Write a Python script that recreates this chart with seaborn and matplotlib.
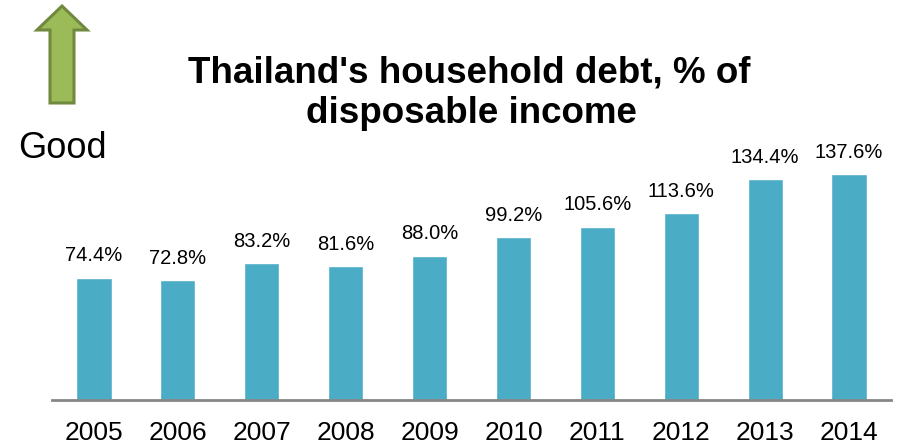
import matplotlib
matplotlib.use("Agg")
import matplotlib.pyplot as plt
import seaborn as sns
import pandas as pd
from matplotlib.patches import Polygon

years = ["2005", "2006", "2007", "2008", "2009", "2010", "2011", "2012", "2013", "2014"]
debt = [74.4, 72.8, 83.2, 81.6, 88.0, 99.2, 105.6, 113.6, 134.4, 137.6]
labels = ["74.4%", "72.8%", "83.2%", "81.6%", "88.0%", "99.2%", "105.6%", "113.6%", "134.4%", "137.6%"]
title_lines = ["Thailand's household debt, % of", "disposable income"]

sns.set_theme(style="white")
plt.rcParams["font.family"] = ["Liberation Sans", "DejaVu Sans"]

W, H = 900, 446
fig = plt.figure(figsize=(9, 4.46), dpi=100)
fig.patch.set_facecolor("white")

# axes in pixel layout
left_px, right_px, base_px, top_px = 52, 891, 400, 150
ax = fig.add_axes([left_px / W, (H - base_px) / H, (right_px - left_px) / W, (base_px - top_px) / H])
df = pd.DataFrame({"year": years, "debt": debt})
sns.barplot(data=df, x="year", y="debt", color="#4BACC6", saturation=1, width=0.42, ax=ax)
ax.set_xlim(-0.5, 9.5)
ax.set_ylim(0, (base_px - top_px) / 1.642)
ax.set_xlabel("")
ax.set_ylabel("")
ax.set_yticks([])
for s in ["top", "right", "left"]:
    ax.spines[s].set_visible(False)
ax.spines["bottom"].set_color("#868686")
ax.spines["bottom"].set_linewidth(2)
ax.tick_params(axis="x", length=0, pad=15, labelsize=19, colors="black")
for lab in ax.get_xticklabels():
    lab.set_fontsize(19)

for i, (v, t) in enumerate(zip(debt, labels)):
    ax.annotate(t, (i, v), xytext=(0, 9), textcoords="offset points", ha="center", va="bottom",
                fontsize=14.5, color="black", annotation_clip=False)

# title
fig.text(469 / W, 1 - 83 / H, title_lines[0], ha="center", va="baseline", fontsize=26.5, fontweight="bold", color="black")
fig.text(471 / W, 1 - 123 / H, title_lines[1], ha="center", va="baseline", fontsize=26.5, fontweight="bold", color="black")

# "Good" and arrow
fig.text(18 / W, 1 - 158 / H, "Good", ha="left", va="baseline", fontsize=26, color="black")
pts_px = [(62, 6), (87, 30), (74, 30), (74, 103), (50, 103), (50, 30), (37, 30)]
pts = [(x / W, 1 - y / H) for x, y in pts_px]
arrow = Polygon(pts, closed=True, facecolor="#9BBB59", edgecolor="#71893F", linewidth=2.2,
                transform=fig.transFigure, joinstyle="miter")
fig.patches.append(arrow)

fig.savefig("out.png", dpi=100, facecolor="white")
